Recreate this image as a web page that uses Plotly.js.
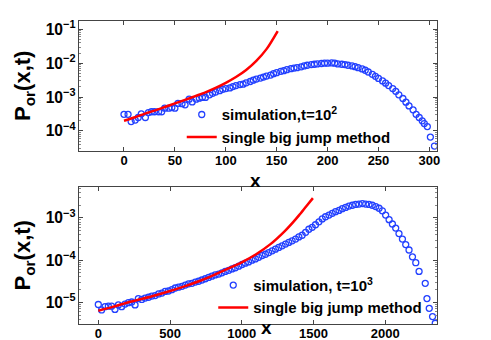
<!DOCTYPE html>
<html>
<head>
<meta charset="utf-8">
<script src="https://cdn.plot.ly/plotly-3.0.1.min.js"></script>
<style>
  html, body { margin: 0; padding: 0; background: #fff; }
  #chart { width: 491px; height: 340px; }
</style>
</head>
<body>
<div id="chart"></div>
<script>
// top panel, t = 10^2
var simX1 = [0,4,7,11,14,17,21,24,27,30,34,37,40,44,47,50,53,57,60,64,67,71,74,77,80,84,87,90,94,97,
  100,104,107,110,114,117,120,124,127,130,134,137,140,144,147,150,154,157,160,164,167,170,174,177,180,184,187,190,194,197,
  200,204,207,210,214,217,220,224,227,230,234,237,240,244,247,250,254,257,260,264,267,270,274,277,280,284,287,290,293,295,
  298,301,305];
var simY1 = [3.1e-4,3.1e-4,1.9e-4,2.1e-4,2.5e-4,3.2e-4,2.5e-4,3.5e-4,3.7e-4,3.7e-4,
  3.7e-4,3.7e-4,4.7e-4,4.7e-4,4.9e-4,4.7e-4,6.5e-4,6.4e-4,5.9e-4,8.7e-4,
  7.2e-4,8.7e-4,9.3e-4,9.8e-4,9.8e-4,1.17e-3,1.29e-3,1.41e-3,1.55e-3,1.70e-3,
  1.78e-3,1.86e-3,2.04e-3,2.19e-3,2.34e-3,2.40e-3,2.63e-3,2.88e-3,3.16e-3,3.39e-3,
  3.63e-3,3.89e-3,4.17e-3,4.47e-3,4.9e-3,5.25e-3,5.75e-3,6.0e-3,6.45e-3,6.9e-3,
  7.2e-3,7.4e-3,7.8e-3,8.3e-3,8.7e-3,9.1e-3,9.3e-3,9.5e-3,9.8e-3,1.0e-2,
  1.0e-2,1.02e-2,1.0e-2,9.5e-3,9.3e-3,9.1e-3,8.7e-3,8.3e-3,7.9e-3,7.4e-3,
  6.8e-3,6.2e-3,5.5e-3,4.7e-3,4.1e-3,3.55e-3,3.0e-3,2.57e-3,2.19e-3,1.78e-3,
  1.48e-3,1.17e-3,9.1e-4,7.1e-4,5.5e-4,4.2e-4,3.1e-4,2.5e-4,2.0e-4,1.66e-4,
  1.35e-4,6.6e-5,3.6e-5];
var jumpX1 = [0,10,20,30,40,50,60,70,80,90,100,110,120,130,140,151];
var jumpY1 = [2.0e-4,2.5e-4,3.2e-4,4.0e-4,5.1e-4,6.5e-4,8.3e-4,1.07e-3,1.38e-3,1.86e-3,
  2.63e-3,3.9e-3,6.3e-3,1.17e-2,2.6e-2,8.9e-2];

// bottom panel, t = 10^3
var simX2 = [0,23,47,70,93,116,140,163,186,210,233,256,279,303,326,350,373,396,420,443,
  466,489,513,536,559,583,606,629,652,676,699,722,746,769,792,815,839,862,885,909,
  932,955,979,1002,1025,1048,1072,1095,1118,1142,1165,1188,1212,1235,1258,1281,1305,1328,1351,1375,
  1398,1421,1445,1468,1491,1514,1538,1561,1584,1608,1631,1654,1678,1701,1724,1747,1771,1794,1817,1841,
  1864,1887,1910,1934,1957,1980,2003,2027,2050,2073,2096,2120,2143,2166,2190,2213,2236,
  2279,2291,2307,2330,2349];
var simY2 = [8.9e-6,6.6e-6,7.9e-6,8.1e-6,8.1e-6,6.8e-6,8.7e-6,7.9e-6,9.1e-6,9.8e-6,
  1.02e-5,8.7e-6,1.23e-5,1.17e-5,1.26e-5,1.32e-5,1.41e-5,1.45e-5,1.58e-5,1.66e-5,
  1.82e-5,1.86e-5,2.0e-5,2.19e-5,2.29e-5,2.4e-5,2.57e-5,2.75e-5,2.82e-5,3.02e-5,
  3.16e-5,3.39e-5,3.63e-5,3.89e-5,4.17e-5,4.47e-5,4.68e-5,5.0e-5,5.4e-5,5.75e-5,
  6.2e-5,6.6e-5,7.2e-5,7.9e-5,8.5e-5,9.1e-5,1.0e-4,1.07e-4,1.17e-4,1.29e-4,
  1.38e-4,1.51e-4,1.66e-4,1.82e-4,2.0e-4,2.19e-4,2.4e-4,2.63e-4,2.88e-4,3.16e-4,
  3.55e-4,3.89e-4,4.57e-4,5.4e-4,6.0e-4,6.9e-4,8.1e-4,9.5e-4,1.07e-3,1.17e-3,
  1.29e-3,1.41e-3,1.51e-3,1.66e-3,1.78e-3,1.91e-3,2.0e-3,2.09e-3,2.14e-3,2.19e-3,
  2.14e-3,2.09e-3,2.0e-3,1.86e-3,1.70e-3,1.48e-3,1.17e-3,9.1e-4,7.2e-4,5.75e-4,
  4.27e-4,3.16e-4,2.34e-4,1.74e-4,1.2e-4,8.7e-5,5.4e-5,
  2.82e-5,1.23e-5,7.2e-6,4.6e-6,3.2e-6];
var jumpX2 = [0,100,200,300,400,500,600,700,800,900,1000,1100,1200,1300,1360,1400,1450,1496];
var jumpY2 = [6.3e-6,7.8e-6,9.8e-6,1.2e-5,1.48e-5,1.86e-5,2.4e-5,3.16e-5,4.37e-5,6.2e-5,
  8.9e-5,1.38e-4,2.4e-4,4.9e-4,8.1e-4,1.17e-3,1.9e-3,2.95e-3];

var FONT = "Liberation Sans, Arial, sans-serif";
var blue = "rgb(35,65,255)";
var red = "#ff0000";

var traces = [
  { x: simX1, y: simY1, xaxis: "x", yaxis: "y", type: "scatter", mode: "markers",
    name: "simulation,t=10<sup>2</sup>", legend: "legend",
    marker: { symbol: "circle-open", size: 6, color: blue, line: { width: 1.3, color: blue } } },
  { x: jumpX1, y: jumpY1, xaxis: "x", yaxis: "y", type: "scatter", mode: "lines",
    name: "single big jump method", legend: "legend",
    line: { color: red, width: 2.5, shape: "spline", smoothing: 0.8 } },
  { x: simX2, y: simY2, xaxis: "x2", yaxis: "y2", type: "scatter", mode: "markers",
    name: "simulation, t=10<sup>3</sup>", legend: "legend2",
    marker: { symbol: "circle-open", size: 6, color: blue, line: { width: 1.3, color: blue } } },
  { x: jumpX2, y: jumpY2, xaxis: "x2", yaxis: "y2", type: "scatter", mode: "lines",
    name: "single big jump method", legend: "legend2",
    line: { color: red, width: 2.5, shape: "spline", smoothing: 0.8 } }
];

function xAx(range, dtick, anchor) {
  return {
    anchor: anchor, range: range, dtick: dtick, tick0: 0,
    ticks: "inside", ticklen: 4, tickcolor: "#444", mirror: "ticks",
    ticklabelstandoff: -3,
    showline: true, linecolor: "#444", linewidth: 1,
    showgrid: false, zeroline: false,
    tickfont: { family: FONT, size: 13, color: "#000", weight: "bold" }
  };
}
function yAx(range, domain, anchor) {
  return {
    type: "log", anchor: anchor, domain: domain, range: range, dtick: 1,
    exponentformat: "power",
    ticks: "inside", ticklen: 4, tickcolor: "#444", mirror: "ticks",
    minor: { ticks: "inside", ticklen: 2, tickcolor: "#888", dtick: "D1", showgrid: false },
    showline: true, linecolor: "#444", linewidth: 1,
    showgrid: false, zeroline: false,
    tickfont: { family: FONT, size: 12.5, color: "#000", weight: "bold" }
  };
}

var yTitle = "P<sub>or</sub>(x,t)";
var layout = {
  width: 491, height: 340,
  margin: { l: 79, r: 54, t: 21, b: 16 },
  paper_bgcolor: "#fff", plot_bgcolor: "#fff",
  font: { family: FONT, color: "#000" },
  xaxis: xAx([-44.2, 307.5], 50, "y"),
  yaxis: yAx([-4.59, -0.755], [0.571, 1], "x"),
  xaxis2: xAx([-134.6, 2361], 500, "y2"),
  yaxis2: yAx([-5.513, -2.267], [0, 0.452], "x2"),
  legend: {
    x: 0.287, y: 0.745, xanchor: "left", yanchor: "top",
    bgcolor: "rgba(0,0,0,0)", borderwidth: 0,
    font: { family: FONT, size: 15, color: "#000", weight: "bold" }
  },
  legend2: {
    x: 0.375, y: 0.182, xanchor: "left", yanchor: "top",
    bgcolor: "rgba(0,0,0,0)", borderwidth: 0,
    font: { family: FONT, size: 15, color: "#000", weight: "bold" }
  },
  annotations: [
    { text: yTitle, xref: "paper", yref: "paper", x: 0, y: 0.7855, xshift: -55,
      xanchor: "center", yanchor: "middle", textangle: -90, showarrow: false,
      font: { family: FONT, size: 22, color: "#000", weight: "bold" } },
    { text: yTitle, xref: "paper", yref: "paper", x: 0, y: 0.226, xshift: -55,
      xanchor: "center", yanchor: "middle", textangle: -90, showarrow: false,
      font: { family: FONT, size: 22, color: "#000", weight: "bold" } },
    { text: "x", xref: "paper", yref: "paper", x: 0.494, y: 0.472,
      xanchor: "center", yanchor: "middle", showarrow: false,
      font: { family: FONT, size: 19, color: "#000", weight: "bold" } },
    { text: "x", xref: "paper", yref: "paper", x: 0.525, y: -0.0528,
      xanchor: "center", yanchor: "bottom", showarrow: false,
      font: { family: FONT, size: 19, color: "#000", weight: "bold" } }
  ]
};

Plotly.newPlot("chart", traces, layout, { displayModeBar: false, staticPlot: true });
</script>
</body>
</html>
